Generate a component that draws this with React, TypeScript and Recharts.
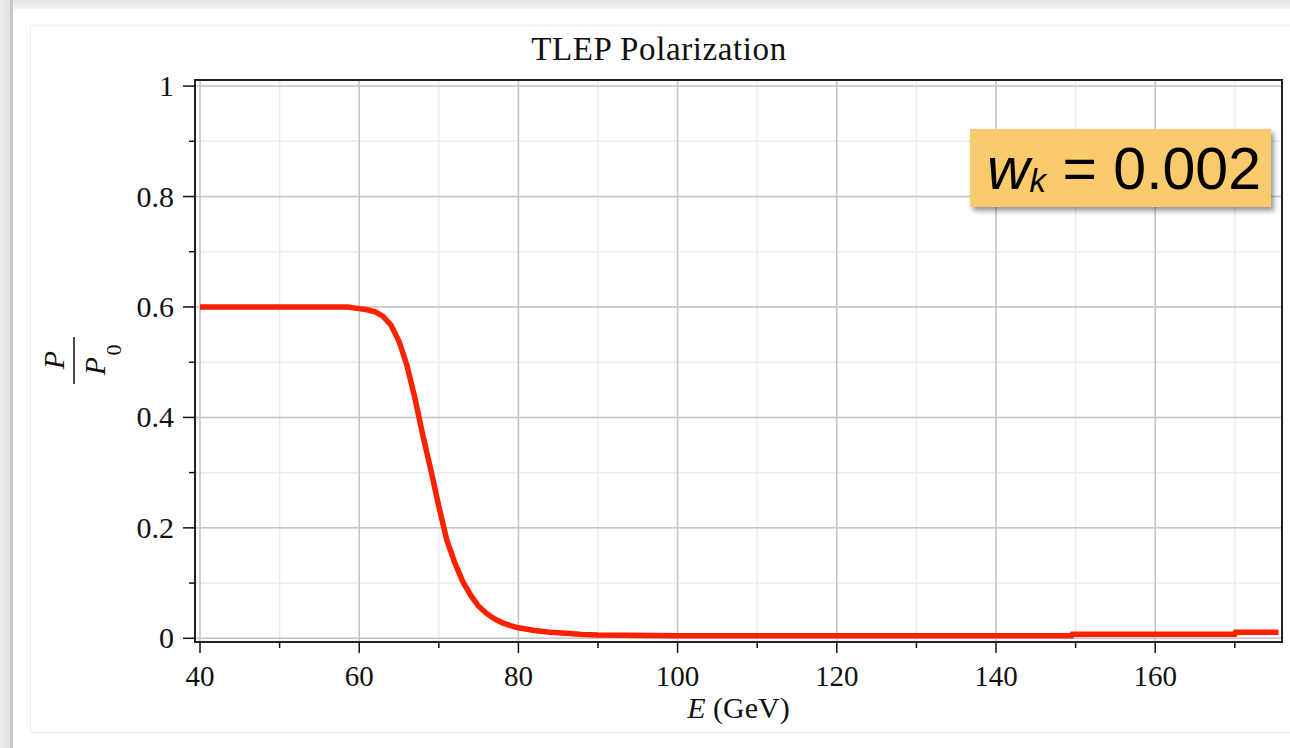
import { LineChart, Line, XAxis, YAxis, CartesianGrid, ReferenceArea } from "recharts"

// beam energy (GeV) and P/P0
const energy = [
  40, 50, 58.5, 60, 61, 62, 63, 64, 65, 66, 67, 68, 69, 70, 71, 72, 73, 74, 75, 76, 77, 78, 79, 80,
  82, 84, 86, 88, 90, 100, 120, 149.5, 149.6, 160, 170, 170.1, 175.5,
]
const polarization = [
  0.6, 0.6, 0.6, 0.597, 0.595, 0.591, 0.583, 0.567, 0.538, 0.494, 0.435, 0.367, 0.305, 0.239, 0.178,
  0.137, 0.103, 0.078, 0.058, 0.045, 0.035, 0.028, 0.023, 0.019,
  0.014, 0.011, 0.009, 0.007, 0.006, 0.0045, 0.0045, 0.0045, 0.0075, 0.0075, 0.0075, 0.011, 0.011,
]

const xTicks = [40, 50, 60, 70, 80, 90, 100, 110, 120, 130, 140, 150, 160, 170]
const xMajor = [40, 60, 80, 100, 120, 140, 160]
const yTicks = [0, 0.1, 0.2, 0.3, 0.4, 0.5, 0.6, 0.7, 0.8, 0.9, 1]
const yMajor = [0, 0.2, 0.4, 0.6, 0.8, 1]
const xDomain = [39.37, 175.93]
const yDomain = [-0.0067, 1.011]

const rows = energy.map((e, i) => ({ e, p: polarization[i] }))

const serif = '"Liberation Serif", "Times New Roman", serif'
const sans = '"Liberation Sans", Arial, sans-serif'
const ink = "#111"

function XTick(props: any) {
  const { x, y, payload } = props
  const major = xMajor.includes(payload.value)
  return (
    <g>
      <line x1={x} x2={x} y1={y} y2={y + (major ? 11 : 6)} stroke={ink} strokeWidth={1.5} />
      {major && (
        <text x={x} y={y + 44} textAnchor="middle" fontFamily={serif} fontSize={29} fill={ink}>
          {payload.value}
        </text>
      )}
    </g>
  )
}

function YTick(props: any) {
  const { x, y, payload } = props
  const major = yMajor.includes(payload.value)
  const v = payload.value
  const txt = v === 0 || v === 1 ? String(v) : v.toFixed(1)
  return (
    <g>
      <line x1={x - (major ? 12 : 6)} x2={x} y1={y} y2={y} stroke={ink} strokeWidth={1.5} />
      {major && (
        <text x={x - 21} y={y + 10} textAnchor="end" fontFamily={serif} fontSize={30} fill={ink}>
          {txt}
        </text>
      )}
    </g>
  )
}

function XLabel(props: any) {
  const vb = props.viewBox
  return (
    <text x={vb.x + vb.width / 2} y={vb.y + 76} textAnchor="middle" fontFamily={serif} fontSize={30} fill={ink}>
      <tspan fontStyle="italic">E</tspan> (GeV)
    </text>
  )
}

function YLabel(props: any) {
  const vb = props.viewBox
  const cx = vb.x + 74
  const cy = vb.y + vb.height / 2
  return (
    <g transform={`translate(${cx},${cy}) rotate(-90)`} fontFamily={serif} fill={ink}>
      <text x={1} y={-10} textAnchor="middle" fontStyle="italic" fontSize={30}>P</text>
      <line x1={-23} x2={24} y1={0} y2={0} stroke={ink} strokeWidth={1.5} />
      <text x={-5} y={31} textAnchor="middle" fontStyle="italic" fontSize={30}>P</text>
      <text x={11} y={47} textAnchor="middle" fontSize={22}>0</text>
    </g>
  )
}

export default function App() {
  return (
    <div style={{ position: "absolute", left: 0, top: 0, width: 1290, height: 748, background: "#fff", overflow: "hidden" }}>
      {/* screenshot frame */}
      <div style={{ position: "absolute", left: 0, top: 0, width: 1290, height: 9, background: "linear-gradient(#e4e4e4, #f3f3f3)" }} />
      <div
        style={{
          position: "absolute",
          left: 0,
          top: 0,
          width: 13,
          height: 748,
          background: "linear-gradient(to right, #ececec 0px, #e2e2e2 10px, #c2c2c2 10px, #cdcdcd 13px)",
        }}
      />
      <div style={{ position: "absolute", left: 30, top: 25, width: 1300, height: 706, border: "1px solid #ececec" }} />

      <div style={{ position: "absolute", left: 0, top: 0 }}>
        <LineChart width={1290} height={748} data={rows} margin={{ top: 80, right: 8, left: 0, bottom: 0 }}>
          <XAxis
            type="number"
            dataKey="e"
            domain={xDomain}
            ticks={xTicks}
            interval={0}
            allowDataOverflow
            axisLine={false}
            tickLine={false}
            tickSize={0}
            tickMargin={0}
            height={106}
            tick={(p: any) => <XTick {...p} />}
            label={{ content: XLabel }}
          />
          <YAxis
            type="number"
            domain={yDomain}
            ticks={yTicks}
            interval={0}
            allowDataOverflow
            axisLine={false}
            tickLine={false}
            tickSize={0}
            tickMargin={0}
            width={195}
            tick={(p: any) => <YTick {...p} />}
            label={{ content: YLabel }}
          />
          <XAxis xAxisId="major" type="number" dataKey="e" domain={xDomain} ticks={xMajor} allowDataOverflow hide />
          <YAxis yAxisId="major" type="number" domain={yDomain} ticks={yMajor} allowDataOverflow hide />
          <CartesianGrid stroke="#ebebeb" strokeWidth={1.5} />
          <CartesianGrid xAxisId="major" yAxisId="major" stroke="#c6c6c6" strokeWidth={1.5} />
          <ReferenceArea
            x1={xDomain[0]}
            x2={xDomain[1]}
            y1={yDomain[0]}
            y2={yDomain[1]}
            fill="none"
            stroke="#222"
            strokeWidth={2}
          />
          <Line type="linear" dataKey="p" stroke="#ff2000" strokeWidth={5.5} dot={false} isAnimationActive={false} />
        </LineChart>
      </div>

      <svg style={{ position: "absolute", left: 0, top: 0 }} width={1290} height={100}>
        <text x={659} y={60} textAnchor="middle" fontFamily={serif} fontSize={33} fill={ink} letterSpacing={0.6}>
          TLEP Polarization
        </text>
      </svg>

      <div
        style={{
          position: "absolute",
          left: 970,
          top: 129,
          width: 301,
          height: 78,
          background: "#f9cb6c",
          boxShadow: "3px 4px 5px rgba(0,0,0,0.4)",
        }}
      >
        <svg width={301} height={78} style={{ display: "block" }}>
          <text x={17} y={60} fontFamily={sans} fontSize={59} fill="#000" style={{ whiteSpace: "pre" }}>
            <tspan fontStyle="italic">w</tspan>
            <tspan fontStyle="italic" fontSize={33} dy={3}>k</tspan>
            <tspan dy={-3}> = 0.002</tspan>
          </text>
        </svg>
      </div>
    </div>
  )
}
